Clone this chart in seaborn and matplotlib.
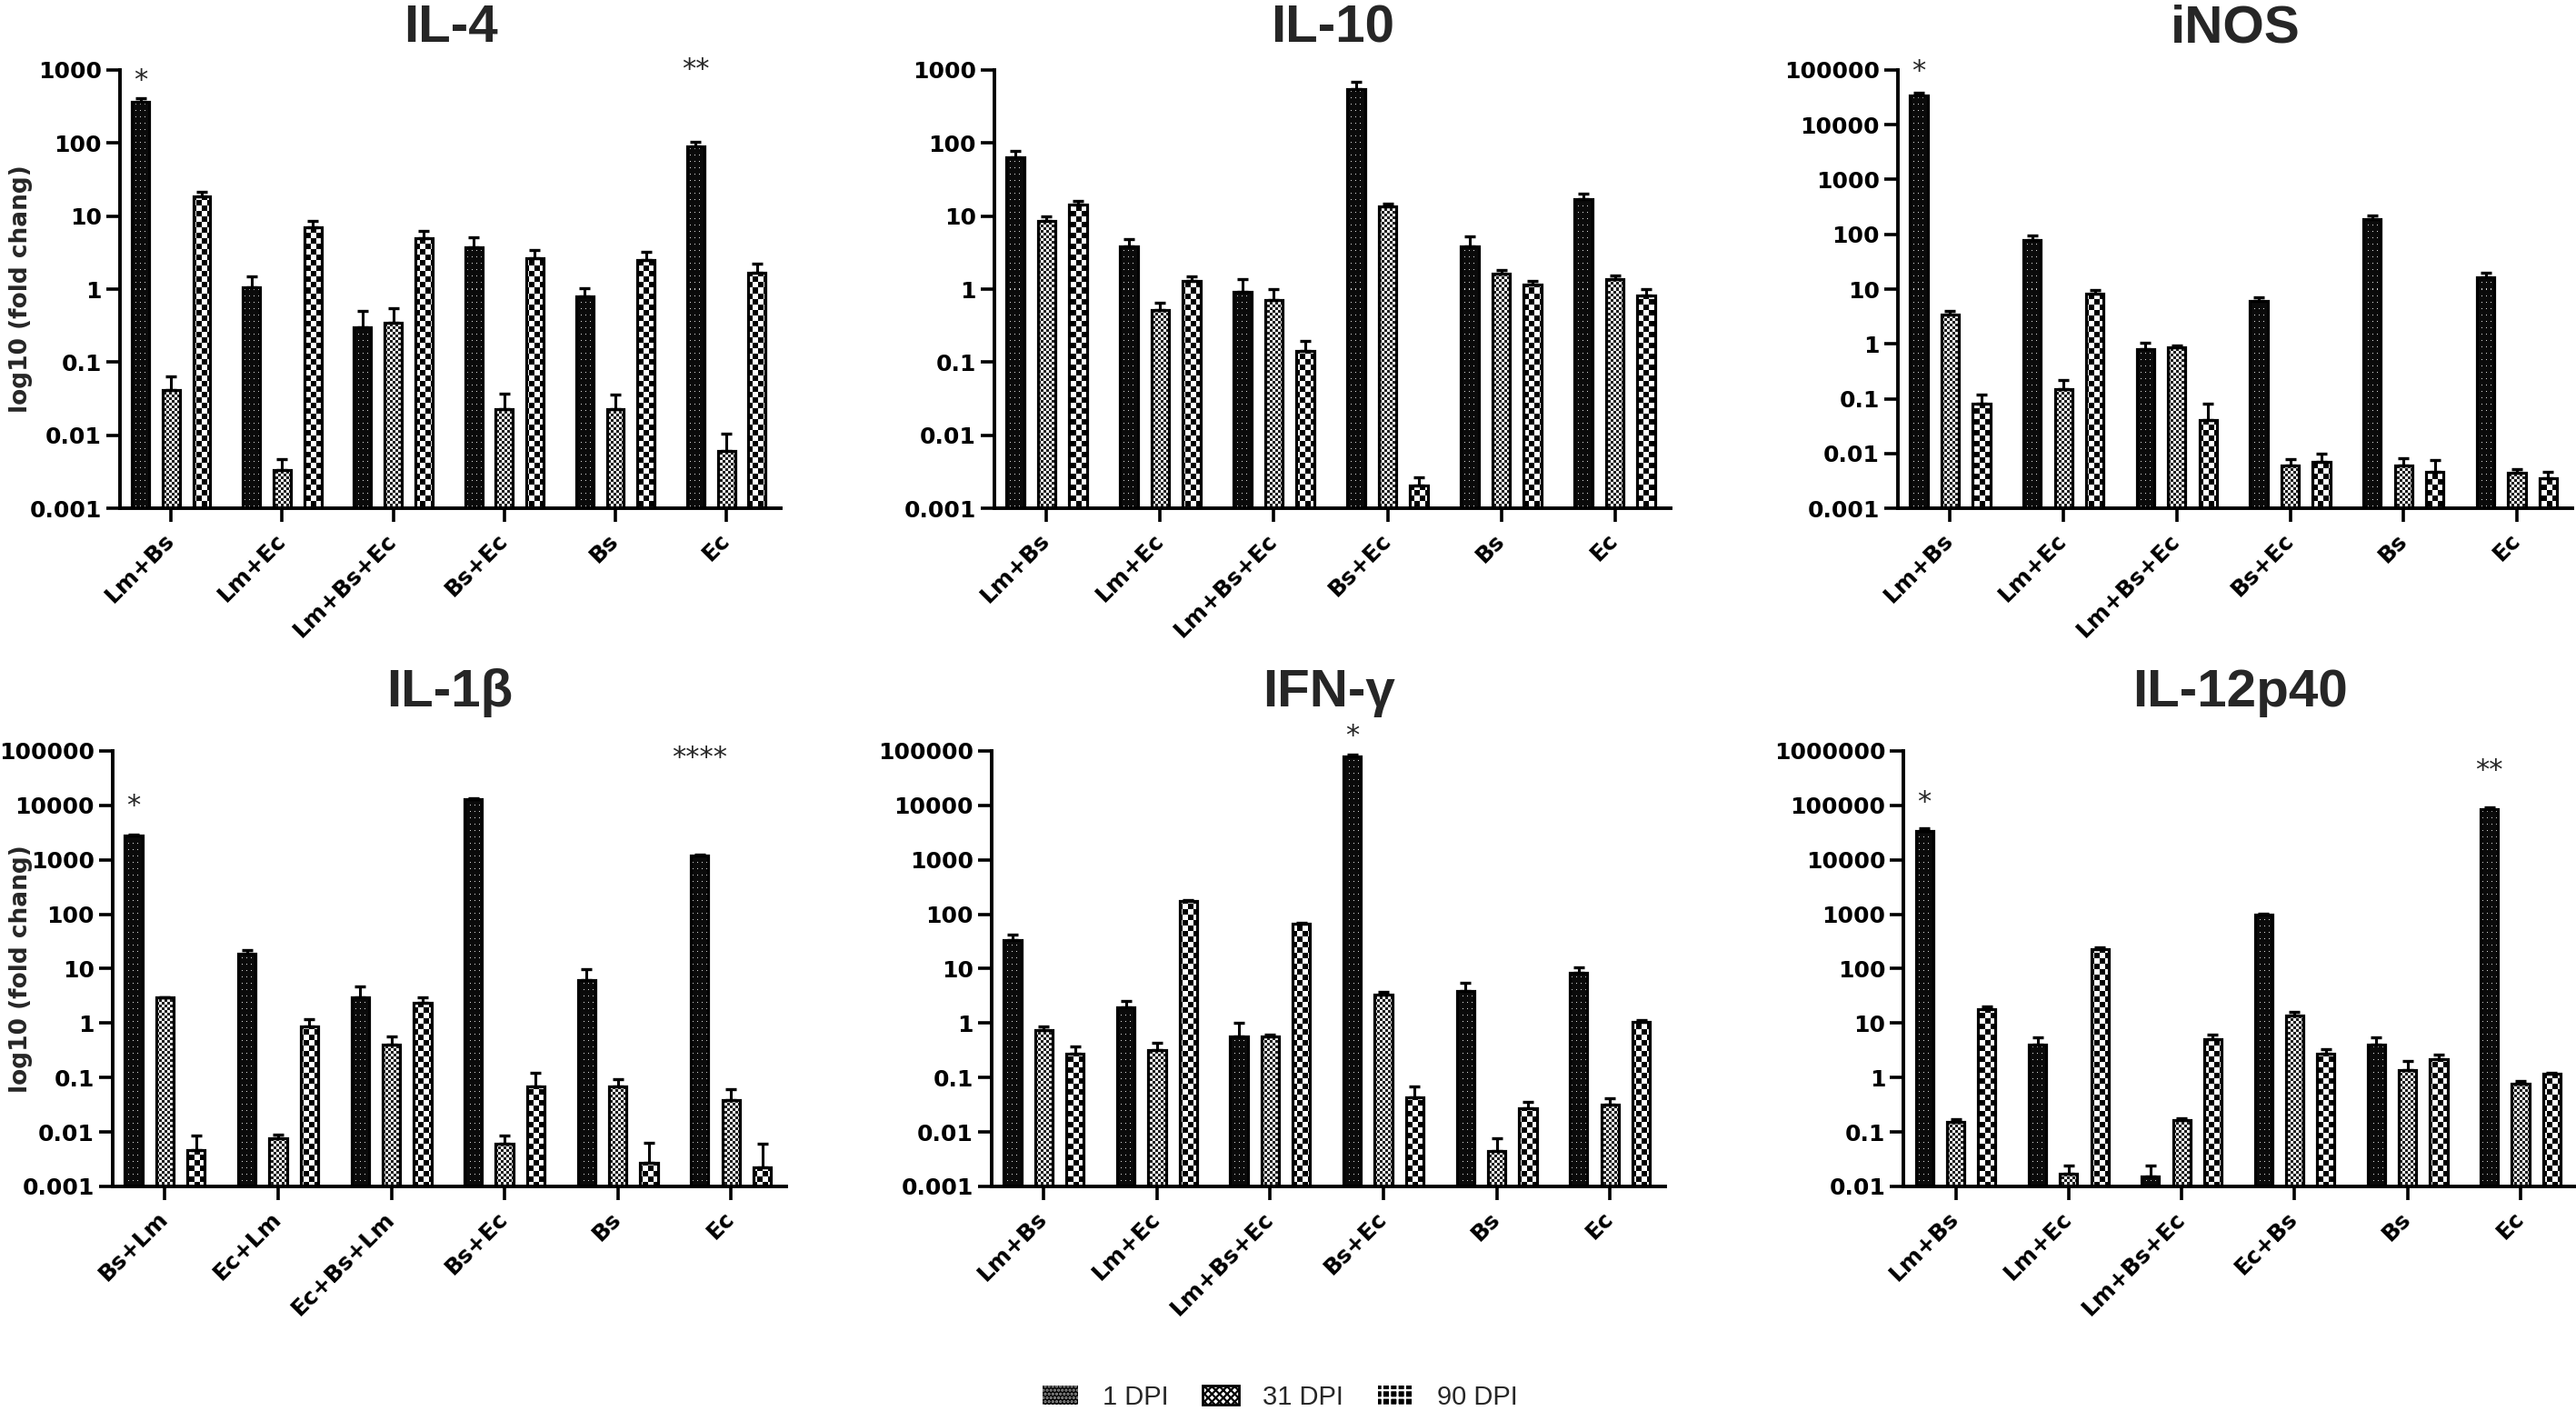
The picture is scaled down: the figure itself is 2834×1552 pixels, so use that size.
import numpy as np
import pandas as pd
import matplotlib
matplotlib.use("Agg")
import matplotlib.pyplot as plt
from matplotlib.patches import Patch
from matplotlib.path import Path
from matplotlib.ticker import NullLocator
import seaborn as sns

# ---------- 1. Data (fold change) ----------
dpi_levels = ["1 DPI", "31 DPI", "90 DPI"]
decade_labels = ["0.001", "0.01", "0.1", "1", "10", "100", "1000",
                 "10000", "100000", "1000000"]
ylabel_text = "log10 (fold chang)"

# IL-4
il4_groups = ["Lm+Bs", "Lm+Ec", "Lm+Bs+Ec", "Bs+Ec", "Bs", "Ec"]
il4_d1 = [363, 1.05, 0.30, 3.7, 0.79, 91]
il4_d1_top = [413, 1.51, 0.50, 5.1, 1.02, 104]
il4_d31 = [0.041, 0.0033, 0.35, 0.023, 0.023, 0.0061]
il4_d31_top = [0.064, 0.0047, 0.55, 0.037, 0.036, 0.0105]
il4_d90 = [18.6, 7.0, 5.0, 2.64, 2.5, 1.66]
il4_d90_top = [21.2, 8.7, 6.3, 3.47, 3.2, 2.2]
il4_stars = [(0, "*", 725), (5, "**", 1000)]

# IL-10
il10_groups = ["Lm+Bs", "Lm+Ec", "Lm+Bs+Ec", "Bs+Ec", "Bs", "Ec"]
il10_d1 = [64, 3.84, 0.93, 548, 3.84, 17.1]
il10_d1_top = [77, 4.85, 1.38, 693, 5.3, 20.5]
il10_d31 = [8.5, 0.52, 0.70, 13.5, 1.64, 1.38]
il10_d31_top = [9.8, 0.65, 1.0, 15.0, 1.82, 1.53]
il10_d90 = [14.4, 1.31, 0.141, 0.00205, 1.16, 0.82]
il10_d90_top = [16.2, 1.49, 0.196, 0.00267, 1.29, 0.99]
il10_stars = []

# iNOS
inos_groups = ["Lm+Bs", "Lm+Ec", "Lm+Bs+Ec", "Bs+Ec", "Bs", "Ec"]
inos_d1 = [34400, 79, 0.79, 6.2, 193, 16.6]
inos_d1_top = [38000, 95, 1.03, 7.2, 219, 19.8]
inos_d31 = [3.38, 0.147, 0.86, 0.0061, 0.0061, 0.0044]
inos_d31_top = [4.0, 0.216, 0.92, 0.0078, 0.0082, 0.0051]
inos_d90 = [0.082, 8.4, 0.040, 0.0071, 0.0046, 0.0035]
inos_d90_top = [0.117, 9.7, 0.082, 0.0099, 0.0075, 0.0047]
inos_stars = [(0, "*", 95000)]

# IL-1beta
il1b_groups = ["Bs+Lm", "Ec+Lm", "Ec+Bs+Lm", "Bs+Ec", "Bs", "Ec"]
il1b_d1 = [2810, 18.5, 2.94, 12900, 6.2, 1210]
il1b_d1_top = [2950, 22, 4.8, 13500, 9.8, 1260]
il1b_d31 = [2.94, 0.0078, 0.406, 0.0061, 0.069, 0.038]
il1b_d31_top = [3.0, 0.0089, 0.575, 0.0086, 0.095, 0.062]
il1b_d90 = [0.0046, 0.86, 2.34, 0.069, 0.00267, 0.0022]
il1b_d90_top = [0.0086, 1.16, 3.0, 0.121, 0.0063, 0.006]
il1b_stars = [(0, "*", 9600), (5, "****", 74000)]

# IFN-gamma
ifng_groups = ["Lm+Bs", "Lm+Ec", "Lm+Bs+Ec", "Bs+Ec", "Bs", "Ec"]
ifng_d1 = [33, 1.95, 0.57, 80000, 3.93, 8.3]
ifng_d1_top = [42, 2.54, 1.0, 87000, 5.5, 10.5]
ifng_d31 = [0.73, 0.316, 0.57, 3.36, 0.0044, 0.032]
ifng_d31_top = [0.87, 0.43, 0.62, 3.8, 0.0076, 0.042]
ifng_d90 = [0.27, 178, 67, 0.0438, 0.0273, 1.07]
ifng_d90_top = [0.37, 185, 70, 0.068, 0.036, 1.15]
ifng_stars = [(3, "*", 185000)]

# IL-12p40
il12_groups = ["Lm+Bs", "Lm+Ec", "Lm+Bs+Ec", "Ec+Bs", "Bs", "Ec"]
il12_d1 = [34300, 3.98, 0.0155, 976, 3.98, 86500]
il12_d1_top = [38000, 5.5, 0.024, 1010, 5.5, 93000]
il12_d31 = [0.152, 0.0169, 0.166, 13.7, 1.37, 0.759]
il12_d31_top = [0.172, 0.0239, 0.18, 16.2, 1.98, 0.857]
il12_d90 = [18.2, 229, 5.0, 2.72, 2.16, 1.19]
il12_d90_top = [20.6, 246, 6.2, 3.35, 2.63, 1.23]
il12_stars = [(0, "*", 115000), (5, "**", 437000)]

# ---------- 2. Panel layout ----------
# title, groups, means, error tops, decade range, axes rect, title pad, stars, ylabel
panels = [
    ("IL-4", il4_groups, [il4_d1, il4_d31, il4_d90],
     [il4_d1_top, il4_d31_top, il4_d90_top], (-3, 3),
     [0.0466, 0.6398, 0.2565, 0.3106], 22, il4_stars, -0.132),
    ("IL-10", il10_groups, [il10_d1, il10_d31, il10_d90],
     [il10_d1_top, il10_d31_top, il10_d90_top], (-3, 3),
     [0.386, 0.6398, 0.2625, 0.3106], 22, il10_stars, None),
    ("iNOS", inos_groups, [inos_d1, inos_d31, inos_d90],
     [inos_d1_top, inos_d31_top, inos_d90_top], (-3, 5),
     [0.7368, 0.6398, 0.2618, 0.3106], 22, inos_stars, None),
    ("IL-1β", il1b_groups, [il1b_d1, il1b_d31, il1b_d90],
     [il1b_d1_top, il1b_d31_top, il1b_d90_top], (-3, 5),
     [0.0438, 0.1592, 0.2615, 0.3086], 35, il1b_stars, -0.119),
    ("IFN-γ", ifng_groups, [ifng_d1, ifng_d31, ifng_d90],
     [ifng_d1_top, ifng_d31_top, ifng_d90_top], (-3, 5),
     [0.385, 0.1592, 0.2615, 0.3086], 35, ifng_stars, None),
    ("IL-12p40", il12_groups, [il12_d1, il12_d31, il12_d90],
     [il12_d1_top, il12_d31_top, il12_d90_top], (-2, 6),
     [0.739, 0.1592, 0.261, 0.3086], 35, il12_stars, None),
]

# ---------- 3. Style ----------
sns.set_style("ticks")
plt.rcParams["font.family"] = ["DejaVu Sans"]
plt.rcParams["font.weight"] = "bold"
plt.rcParams["hatch.linewidth"] = 1.6

FIG_W, FIG_H = 2834, 1552
fig = plt.figure(figsize=(FIG_W / 100, FIG_H / 100), dpi=100)


def texture(kind, h, w):
    # pixel patterns: dotted black, fine checker, coarse checker
    r, c = np.mgrid[0:h, 0:w]
    if kind == 0:
        img = np.full((h, w), 0.04)
        img[(r % 7 == 3) & (c % 5 == 2)] = 0.85
    elif kind == 1:
        img = np.where(((r // 3) + (c // 3)) % 2 == 0, 0.12, 0.95)
    else:
        img = np.where(((r // 6) + (c // 6)) % 2 == 0, 0.0, 1.0)
    return img


# ---------- 4. Draw each cytokine ----------
for title, groups, means, tops, (lo, hi), rect, tpad, stars, ylab_x in panels:
    ax = fig.add_axes(rect)
    ax.set_yscale("log")

    df = pd.DataFrame({
        "group": np.tile(groups, 3),
        "dpi": np.repeat(dpi_levels, len(groups)),
        "fold": np.concatenate(means),
    })
    sns.barplot(data=df, x="group", y="fold", hue="dpi", order=groups,
                hue_order=dpi_levels, errorbar=None, width=0.828, gap=0.44,
                legend=False, ax=ax)

    ax.set_xlim(-0.46, 5.49)
    ax.set_ylim(10.0 ** lo, 10.0 ** hi)

    # textured fills clipped to the bars of each DPI level
    h_px = int(round(rect[3] * FIG_H))
    w_px = int(round(rect[2] * FIG_W))
    bar_sets = list(ax.containers[:3])
    for k, cont in enumerate(bar_sets):
        paths = [p.get_path().transformed(p.get_patch_transform()) for p in cont]
        clip = Path.make_compound_path(*paths)
        im = ax.imshow(texture(k, h_px, w_px), cmap="gray", vmin=0, vmax=1,
                       extent=(0, 1, 0, 1), transform=ax.transAxes,
                       interpolation="nearest", aspect="auto", zorder=1.5)
        im.set_clip_path(clip, ax.transData)
        for p in cont:
            p.set_facecolor("none")
            p.set_edgecolor("black")
            p.set_linewidth(2.3)
            p.set_zorder(2)

    # one-sided error bars (mean to upper cap)
    for k, cont in enumerate(bar_sets):
        xs = [p.get_x() + p.get_width() / 2 for p in cont]
        ys = np.array(means[k])
        up = np.array(tops[k]) - ys
        ax.errorbar(xs, ys, yerr=[np.zeros_like(ys), up], fmt="none",
                    ecolor="black", elinewidth=2.2, capsize=4, capthick=2.4,
                    zorder=3)

    # significance stars above the 1 DPI bars
    for gi, s, yv in stars:
        p = bar_sets[0][gi]
        ax.text(p.get_x() + p.get_width() / 2, yv, s, ha="center", va="center",
                fontsize=22, fontweight="normal", clip_on=False)

    ax.set_yticks([10.0 ** e for e in range(lo, hi + 1)],
                  decade_labels[lo + 3:hi + 4])
    ax.yaxis.set_minor_locator(NullLocator())
    ax.set_xticks(range(len(groups)))
    ax.set_xticklabels(groups, rotation=45, ha="right", va="center",
                       rotation_mode="anchor")
    ax.tick_params(axis="both", width=2.6, length=11, labelsize=18,
                   color="black", labelcolor="black")
    ax.tick_params(axis="x", pad=12)
    for side in ["top", "right"]:
        ax.spines[side].set_visible(False)
    for side in ["left", "bottom"]:
        ax.spines[side].set_linewidth(2.8)
        ax.spines[side].set_color("black")
        ax.spines[side].set_zorder(4)

    ax.set_xlabel("")
    if ylab_x is None:
        ax.set_ylabel("")
    else:
        ax.set_ylabel(ylabel_text, fontsize=19, fontweight="bold")
        ax.yaxis.set_label_coords(ylab_x, 0.5)

    ax.set_title(title, fontsize=42, fontweight="bold", pad=tpad,
                 family=["Liberation Sans", "DejaVu Sans"])

# ---------- 5. Shared legend ----------
handles = [
    Patch(facecolor="black", edgecolor="#a0a0a0", hatch="....", linewidth=0),
    Patch(facecolor="white", edgecolor="black", hatch="xxxx", linewidth=2),
    Patch(facecolor="black", edgecolor="white", hatch="++", linewidth=0),
]
fig.legend(handles, dpi_levels, loc="center", bbox_to_anchor=(0.497, 0.0097),
           ncol=3, frameon=False, handlelength=1.35, handleheight=0.72,
           handletextpad=0.9, columnspacing=1.3,
           prop={"family": ["Liberation Sans", "DejaVu Sans"],
                 "weight": "normal", "size": 21})

fig.savefig("out.png", dpi=100)
